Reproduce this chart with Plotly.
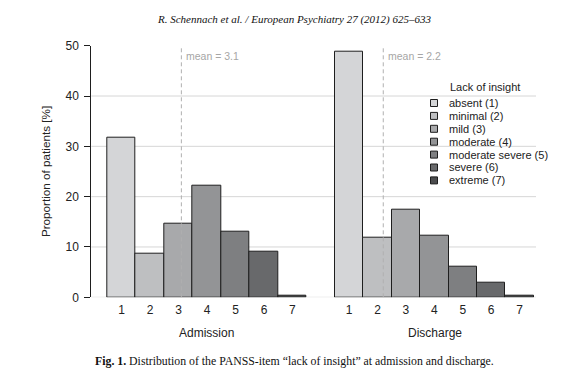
import plotly.graph_objects as go

# page body adds an 8px margin; size the figure so the page fits the 579x383 window
OFF = 8
W, H = 579 - 2 * OFF, 383 - 2 * OFF

categories = [1, 2, 3, 4, 5, 6, 7]
admission = [31.8, 8.6, 14.7, 22.1, 13.1, 9.0, 0.4]
discharge = [48.8, 11.9, 17.5, 12.3, 6.0, 3.0, 0.3]
mean_admission = 3.1
mean_discharge = 2.2
legend_labels = ["absent (1)", "minimal (2)", "mild (3)", "moderate (4)",
                 "moderate severe (5)", "severe (6)", "extreme (7)"]
colors = ["#d4d5d7", "#bebfc1", "#a8a9ab", "#939496", "#7e7f81", "#68696b", "#4b4c4e"]
y_ticks = [0, 10, 20, 30, 40, 50]
grid_vals = [0, 10, 20, 30, 40]


def px(x):
    return (x - OFF) / W


def py(y):
    return 1 - (y - OFF) / H


fig = go.Figure()
fig.add_trace(go.Bar(x=categories, y=admission, marker=dict(color=colors, line=dict(color="#1e1e1e", width=1)),
                     width=1, xaxis="x", yaxis="y", showlegend=False, hoverinfo="skip"))
fig.add_trace(go.Bar(x=categories, y=discharge, marker=dict(color=colors, line=dict(color="#1e1e1e", width=1)),
                     width=1, xaxis="x2", yaxis="y2", showlegend=False, hoverinfo="skip"))

ydom = [py(297.3), py(45.7)]
bw1 = (306.7 - 107.3) / 7
x1_start = 0.5 - (107.3 - 91.3) / bw1
x1_end = 0.5 + (330 - 107.3) / bw1
bw2 = (533.7 - 335.0) / 7
x2_start = 0.5 - (335.0 - 330) / bw2
x2_end = 0.5 + (540 - 335.0) / bw2

tickfont = dict(family="Liberation Sans, Arial, sans-serif", size=12, color="#222")
fig.update_layout(
    template="none",
    width=W, height=H, margin=dict(l=0, r=0, t=0, b=0, autoexpand=False),
    paper_bgcolor="white", plot_bgcolor="rgba(0,0,0,0)",
    bargap=0, showlegend=False,
    xaxis=dict(domain=[px(91.3), px(330)], range=[x1_start, x1_end], tickvals=categories,
               showgrid=False, zeroline=False, showline=False, ticks="", tickfont=tickfont,
               ticklabelstandoff=4, automargin=False, fixedrange=True),
    xaxis2=dict(domain=[px(330), px(540)], range=[x2_start, x2_end], tickvals=categories,
                showgrid=False, zeroline=False, showline=False, ticks="", tickfont=tickfont,
                ticklabelstandoff=4, anchor="y2", automargin=False, fixedrange=True),
    yaxis=dict(domain=ydom, range=[0, 50], tickvals=y_ticks, showgrid=False, zeroline=False,
               showline=True, linecolor="#1e1e1e", linewidth=1, ticks="outside", ticklen=6,
               tickcolor="#1e1e1e", tickfont=tickfont, ticklabelstandoff=3, automargin=False,
               title=dict(text="Proportion of patients [%]", font=dict(family="Liberation Sans, Arial, sans-serif", size=11.7, color="#222"), standoff=12),
               anchor="x", fixedrange=True),
    yaxis2=dict(domain=ydom, range=[0, 50], visible=False, anchor="x2", matches="y",
                automargin=False, fixedrange=True),
)

shapes = []
for g in grid_vals:
    shapes.append(dict(type="line", xref="paper", yref="y", x0=px(91.3), x1=px(536), y0=g, y1=g,
                       line=dict(color="#d6d6d6", width=1), layer="below"))
for xr, yr, m in [("x", "y", mean_admission), ("x2", "y2", mean_discharge)]:
    shapes.append(dict(type="line", xref=xr, yref=yr, x0=m, x1=m, y0=0, y1=50,
                       line=dict(color="#b0b0b0", width=1, dash="4px,3px"), layer="above"))

annotations = []
for xr, yr, m in [("x", "y", mean_admission), ("x2", "y2", mean_discharge)]:
    annotations.append(dict(xref=xr, yref=yr, x=m, y=48.0, text=f"mean = {m}", showarrow=False,
                            xanchor="left", yanchor="middle", xshift=3,
                            font=dict(family="Liberation Sans, Arial, sans-serif", size=10.5, color="#a6a6a6")))

# legend (manual)
annotations.append(dict(xref="paper", yref="paper", x=px(485), y=py(87), text="Lack of insight", showarrow=False,
                        xanchor="center", yanchor="middle",
                        font=dict(family="Liberation Sans, Arial, sans-serif", size=11, color="#222")))
for i, (lab, c) in enumerate(zip(legend_labels, colors)):
    yc = 103 + i * 12.9
    shapes.append(dict(type="rect", xref="paper", yref="paper", x0=px(430.5), x1=px(437.5),
                       y0=py(yc + 3.5), y1=py(yc - 3.5), fillcolor=c, line=dict(color="#1e1e1e", width=1)))
    annotations.append(dict(xref="paper", yref="paper", x=px(446.5), y=py(yc), text=lab, showarrow=False,
                            xanchor="left", yanchor="middle",
                            font=dict(family="Liberation Sans, Arial, sans-serif", size=11, color="#222")))

annotations.append(dict(xref="paper", yref="paper", x=px(206.5), y=py(333), text="Admission", showarrow=False,
                        xanchor="center", yanchor="middle", font=tickfont))
annotations.append(dict(xref="paper", yref="paper", x=px(434.5), y=py(333), text="Discharge", showarrow=False,
                        xanchor="center", yanchor="middle", font=tickfont))
annotations.append(dict(xref="paper", yref="paper", x=px(294), y=py(19),
                        text="<i>R. Schennach et al. / European Psychiatry 27 (2012) 625–633</i>", showarrow=False,
                        xanchor="center", yanchor="middle",
                        font=dict(family="Liberation Serif, DejaVu Serif, serif", size=11, color="#111")))
annotations.append(dict(xref="paper", yref="paper", x=px(294), y=py(360.5),
                        text="<b>Fig. 1.</b> Distribution of the PANSS-item “lack of insight” at admission and discharge.",
                        showarrow=False, xanchor="center", yanchor="middle",
                        font=dict(family="Liberation Serif, DejaVu Serif, serif", size=11.8, color="#111")))

fig.update_layout(shapes=shapes, annotations=annotations)
fig.write_html("out.html")
